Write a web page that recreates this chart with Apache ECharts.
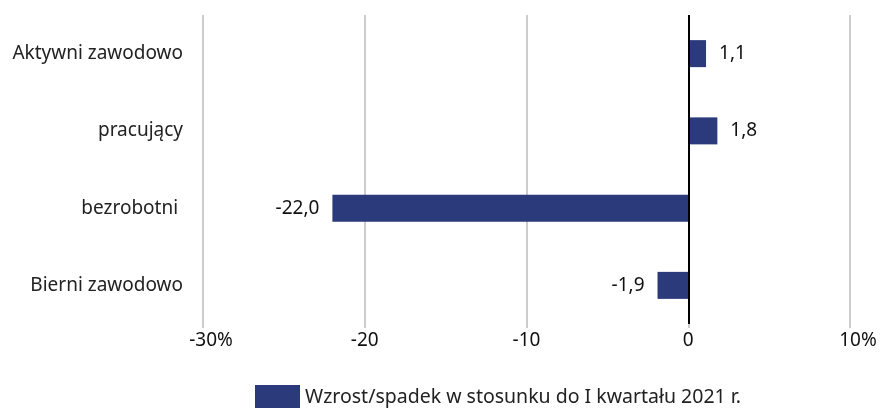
<!DOCTYPE html>
<html>
<head>
<meta charset="utf-8">
<script src="https://cdn.jsdelivr.net/npm/echarts@6/dist/echarts.min.js"></script>
<style>html,body{margin:0;padding:0;background:#fff}#c{width:880px;height:408px}</style>
</head>
<body>
<div id="c"></div>
<script>
const categories = ['Aktywni zawodowo', 'pracujący', 'bezrobotni ', 'Bierni zawodowo'];
const values = [1.1, 1.8, -22.0, -1.9];
const seriesName = 'Wzrost/spadek w stosunku do I kwartału 2021 r.';
const xTickValues = [-30, -20, -10, 0, 10];
const xTickLabels = ['-30%', '-20', '-10', '0', '10%'];

const FONT = '"Noto Sans", sans-serif';
const FS = 19;
const chart = echarts.init(document.getElementById('c'), null, {renderer: 'canvas'});
chart.setOption({
  animation: false,
  textStyle: {fontFamily: FONT},
  grid: {left: 203, right: 30, top: 15, bottom: 84, containLabel: false},
  legend: {
    data: [seriesName],
    left: 255, top: 385, padding: 0,
    itemWidth: 45, itemHeight: 24, itemGap: 10,
    icon: 'rect',
    textStyle: {fontSize: 19.5, color: '#222', fontFamily: FONT}
  },
  xAxis: {
    type: 'value', min: -30, max: 10, interval: 10,
    axisLine: {show: false},
    axisTick: {show: true, length: 4, lineStyle: {color: '#bbb', width: 1.5}},
    splitLine: {show: true, lineStyle: {color: '#bdbdbd', width: 1.5}},
    axisLabel: {
      margin: 7, fontSize: FS, color: '#111', fontFamily: FONT,
      formatter: function (v) {
        const i = xTickValues.indexOf(v);
        const s = i >= 0 ? xTickLabels[i] : String(v);
        return s.endsWith('%') ? '{p|' + s + '}' : s;
      },
      rich: {p: {fontSize: FS, color: '#111', fontFamily: FONT, padding: [0, 0, 0, 16]}}
    }
  },
  yAxis: {
    type: 'category', data: categories, inverse: true,
    axisLine: {show: false}, axisTick: {show: false}, splitLine: {show: false},
    axisLabel: {margin: 20, fontSize: FS, color: '#222', fontFamily: FONT}
  },
  series: [{
    name: seriesName, type: 'bar', data: values.map(v => ({
      value: v,
      label: {position: v >= 0 ? 'right' : 'left'}
    })),
    barWidth: 27,
    itemStyle: {color: '#2b3a7b'},
    label: {
      show: true, distance: 13, fontSize: FS, color: '#111', fontFamily: FONT,
      formatter: p => p.value.toFixed(1).replace('.', ',')
    },
    markLine: {
      silent: true, symbol: 'none', label: {show: false},
      lineStyle: {color: '#000', width: 2, type: 'solid'},
      data: [{xAxis: 0}]
    }
  }]
});
</script>
</body>
</html>
